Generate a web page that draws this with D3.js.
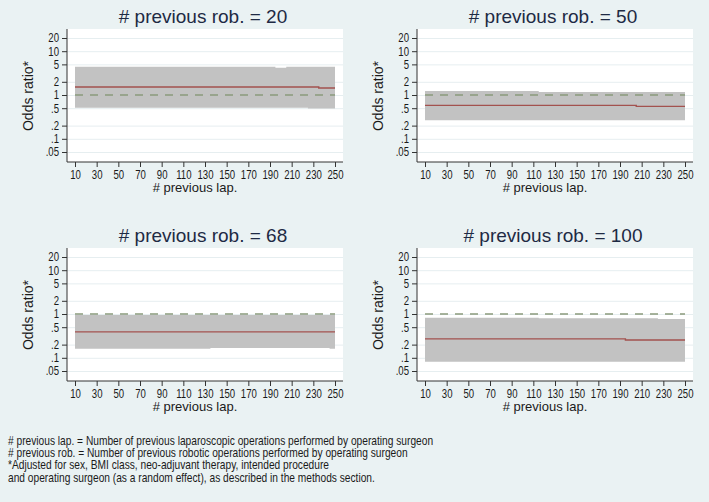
<!DOCTYPE html>
<html>
<head>
<meta charset="utf-8">
<script src="https://cdn.jsdelivr.net/npm/d3@7"></script>
<style>
  body { margin: 0; background: #eaf2f3; }
  svg { display: block; }
</style>
</head>
<body>
<div id="chart"></div>
<script>
// x positions (number of previous laparoscopic operations)
const lapPoints = [10, 20, 30, 40, 50, 60, 70, 80, 90, 100, 110, 120, 130,
                   140, 150, 160, 170, 180, 190, 200, 210, 220, 230, 240, 250];
const lapTicks = [10, 30, 50, 70, 90, 110, 130, 150, 170, 190, 210, 230, 250];
const orTicks = [0.05, 0.1, 0.2, 0.5, 1, 2, 5, 10, 20];
const orTickLabels = [".05", ".1", ".2", ".5", "1", "2", "5", "10", "20"];
const robValues = [20, 50, 68, 100];

// rob = 20
const est20 = [1.52, 1.52, 1.52, 1.52, 1.52, 1.52, 1.52, 1.52, 1.52, 1.52, 1.52, 1.52, 1.52,
               1.52, 1.52, 1.52, 1.52, 1.52, 1.52, 1.52, 1.52, 1.52, 1.52, 1.45, 1.45];
const lo20 = [0.51, 0.51, 0.51, 0.51, 0.51, 0.51, 0.51, 0.51, 0.51, 0.51, 0.51, 0.51, 0.51,
              0.51, 0.51, 0.51, 0.51, 0.51, 0.51, 0.51, 0.51, 0.51, 0.49, 0.49, 0.49];
const hi20 = [4.43, 4.43, 4.43, 4.43, 4.43, 4.43, 4.43, 4.43, 4.43, 4.43, 4.43, 4.43, 4.43,
              4.43, 4.43, 4.43, 4.43, 4.43, 4.43, 4.2, 4.43, 4.43, 4.43, 4.43, 4.43];
// rob = 50
const est50 = [0.58, 0.58, 0.58, 0.58, 0.58, 0.58, 0.58, 0.58, 0.58, 0.58, 0.58, 0.58, 0.58,
               0.58, 0.58, 0.58, 0.58, 0.58, 0.58, 0.58, 0.55, 0.55, 0.55, 0.55, 0.55];
const lo50 = [0.264, 0.264, 0.264, 0.264, 0.264, 0.264, 0.264, 0.264, 0.264, 0.264, 0.264, 0.264, 0.264,
              0.264, 0.264, 0.264, 0.264, 0.264, 0.264, 0.264, 0.264, 0.264, 0.264, 0.264, 0.264];
const hi50 = [1.23, 1.23, 1.23, 1.23, 1.23, 1.23, 1.23, 1.23, 1.23, 1.23, 1.23, 1.17, 1.17,
              1.17, 1.17, 1.17, 1.17, 1.17, 1.17, 1.17, 1.17, 1.17, 1.17, 1.17, 1.17];
// rob = 68
const est68 = [0.39, 0.39, 0.39, 0.39, 0.39, 0.39, 0.39, 0.39, 0.39, 0.39, 0.39, 0.39, 0.39,
               0.39, 0.39, 0.39, 0.39, 0.39, 0.39, 0.39, 0.39, 0.39, 0.39, 0.39, 0.39];
const lo68 = [0.162, 0.162, 0.162, 0.162, 0.162, 0.162, 0.162, 0.162, 0.162, 0.162, 0.162, 0.162, 0.162,
              0.167, 0.167, 0.167, 0.167, 0.167, 0.167, 0.167, 0.167, 0.167, 0.167, 0.167, 0.162];
const hi68 = [0.95, 0.95, 0.95, 0.95, 0.95, 0.95, 0.95, 0.95, 0.95, 0.95, 0.95, 0.95, 0.95,
              0.95, 0.95, 0.95, 0.95, 0.95, 0.95, 0.95, 0.95, 0.95, 0.95, 0.95, 0.95];
// rob = 100
const est100 = [0.27, 0.27, 0.27, 0.27, 0.27, 0.27, 0.27, 0.27, 0.27, 0.27, 0.27, 0.27, 0.27,
                0.27, 0.27, 0.27, 0.27, 0.27, 0.27, 0.255, 0.255, 0.255, 0.255, 0.255, 0.255];
const lo100 = [0.081, 0.081, 0.081, 0.081, 0.081, 0.081, 0.081, 0.081, 0.081, 0.081, 0.081, 0.081, 0.081,
               0.081, 0.081, 0.081, 0.081, 0.081, 0.081, 0.081, 0.081, 0.081, 0.081, 0.081, 0.081];
const hi100 = [0.82, 0.82, 0.82, 0.82, 0.82, 0.82, 0.82, 0.82, 0.82, 0.82, 0.82, 0.80, 0.80,
               0.80, 0.80, 0.80, 0.80, 0.80, 0.80, 0.80, 0.80, 0.80, 0.77, 0.77, 0.77];

const notes = [
    "# previous lap. = Number of previous laparoscopic operations performed by operating surgeon",
    "# previous rob. = Number of previous robotic operations performed by operating surgeon",
    "*Adjusted for sex, BMI class, neo-adjuvant therapy, intended procedure",
    "and operating surgeon (as a random effect), as described in the methods section."
];

const panels = [
    {rob: robValues[0], est: est20, lo: lo20, hi: hi20, left: 67, top: 29},
    {rob: robValues[1], est: est50, lo: lo50, hi: hi50, left: 417, top: 29},
    {rob: robValues[2], est: est68, lo: lo68, hi: hi68, left: 67, top: 248},
    {rob: robValues[3], est: est100, lo: lo100, hi: hi100, left: 417, top: 248}
];

const W = 709, H = 502;
const pw = 276, ph = 133;
const sans = "'Liberation Sans', Arial, sans-serif";
const squeeze = 0.8;   // the original uses a condensed face for small text

let svg = d3.select("#chart").append("svg")
    .attr("width", W)
    .attr("height", H);

svg.append("rect").attr("width", W).attr("height", H).attr("fill", "#eaf2f3");

let x = d3.scaleLinear().domain([10, 250]).range([8, 268]);
let y = d3.scaleLog().domain([0.05, 20]).range([123, 9]);

const area = d3.area()
    .curve(d3.curveStep)
    .x(d => x(d.lap))
    .y0(d => y(d.lo))
    .y1(d => y(d.hi));

const line = d3.line()
    .curve(d3.curveStep)
    .x(d => x(d.lap))
    .y(d => y(d.est));

panels.forEach(p => {
    let rows = lapPoints.map((lap, i) => ({lap: lap, est: p.est[i], lo: p.lo[i], hi: p.hi[i]}));

    let g = svg.append("g")
        .attr("transform", "translate(" + p.left + "," + p.top + ")");

    g.append("rect")        //plot region
        .attr("width", pw)
        .attr("height", ph)
        .attr("fill", "#ffffff");

    g.append("g")           //grid
        .call(d3.axisLeft(y).tickValues(orTicks).tickSize(-pw).tickFormat(""))
        .call(s => s.select(".domain").remove())
        .selectAll("line")
        .attr("stroke", "#e6eef0")
        .attr("stroke-width", 1);

    g.append("path")        //CI band
        .datum(rows)
        .attr("d", area)
        .attr("fill", "#c2c2c2");

    g.append("line")        //reference line at OR = 1
        .attr("x1", x(10))
        .attr("x2", x(250))
        .attr("y1", y(1))
        .attr("y2", y(1))
        .attr("stroke", "#8a9a7c")
        .attr("stroke-width", 1.5)
        .attr("stroke-dasharray", "8,7");

    g.append("path")        //estimate
        .datum(rows)
        .attr("d", line)
        .attr("fill", "none")
        .attr("stroke", "#a3524f")
        .attr("stroke-width", 1.4);

    let yAx = g.append("g")
        .call(d3.axisLeft(y).tickValues(orTicks)
            .tickFormat((d, i) => orTickLabels[i])
            .tickSize(5).tickPadding(3));
    yAx.select(".domain").remove();

    let xAx = g.append("g")
        .attr("transform", "translate(0," + ph + ")")
        .call(d3.axisBottom(x).tickValues(lapTicks).tickSize(5).tickPadding(3));
    xAx.select(".domain").remove();

    [yAx, xAx].forEach(a => {
        a.selectAll("line").attr("stroke", "#333");
        a.selectAll("text")
            .style("font-family", sans)
            .style("font-size", "12px")
            .attr("fill", "#1a1a1a");
    });
    // condense tick labels around their anchor
    yAx.selectAll("text")
        .attr("x", -8 / squeeze)
        .attr("transform", "scale(" + squeeze + ",1)");
    xAx.selectAll("text")
        .attr("transform", "scale(" + squeeze + ",1)");

    g.append("line")        //axis lines
        .attr("x1", 0).attr("x2", 0)
        .attr("y1", 0).attr("y2", ph)
        .attr("stroke", "#333");
    g.append("line")
        .attr("x1", 0).attr("x2", pw)
        .attr("y1", ph).attr("y2", ph)
        .attr("stroke", "#333");

    g.append("text")
        .attr("x", pw / 2 - 2)
        .attr("y", -6)
        .attr("text-anchor", "middle")
        .style("font-family", sans)
        .style("font-size", "19px")
        .attr("fill", "#1e2a44")
        .text("# previous rob. = " + p.rob);

    g.append("text")
        .attr("x", pw / 2 - 10)
        .attr("y", ph + 30)
        .attr("text-anchor", "middle")
        .style("font-family", sans)
        .style("font-size", "13px")
        .attr("fill", "#1a1a1a")
        .text("# previous lap.");

    g.append("text")
        .attr("transform", "translate(-34," + 67 + ") rotate(-90)")
        .attr("text-anchor", "middle")
        .style("font-family", sans)
        .style("font-size", "14px")
        .attr("fill", "#1a1a1a")
        .text("Odds ratio*");
});

svg.append("g")
    .attr("transform", "translate(8,0) scale(0.85,1)")
    .selectAll("text")
    .data(notes)
    .enter().append("text")
    .attr("x", 0)
    .attr("y", (d, i) => 445 + i * 12.2)
    .style("font-family", sans)
    .style("font-size", "12px")
    .attr("fill", "#1a1a1a")
    .text(d => d);
</script>
</body>
</html>
